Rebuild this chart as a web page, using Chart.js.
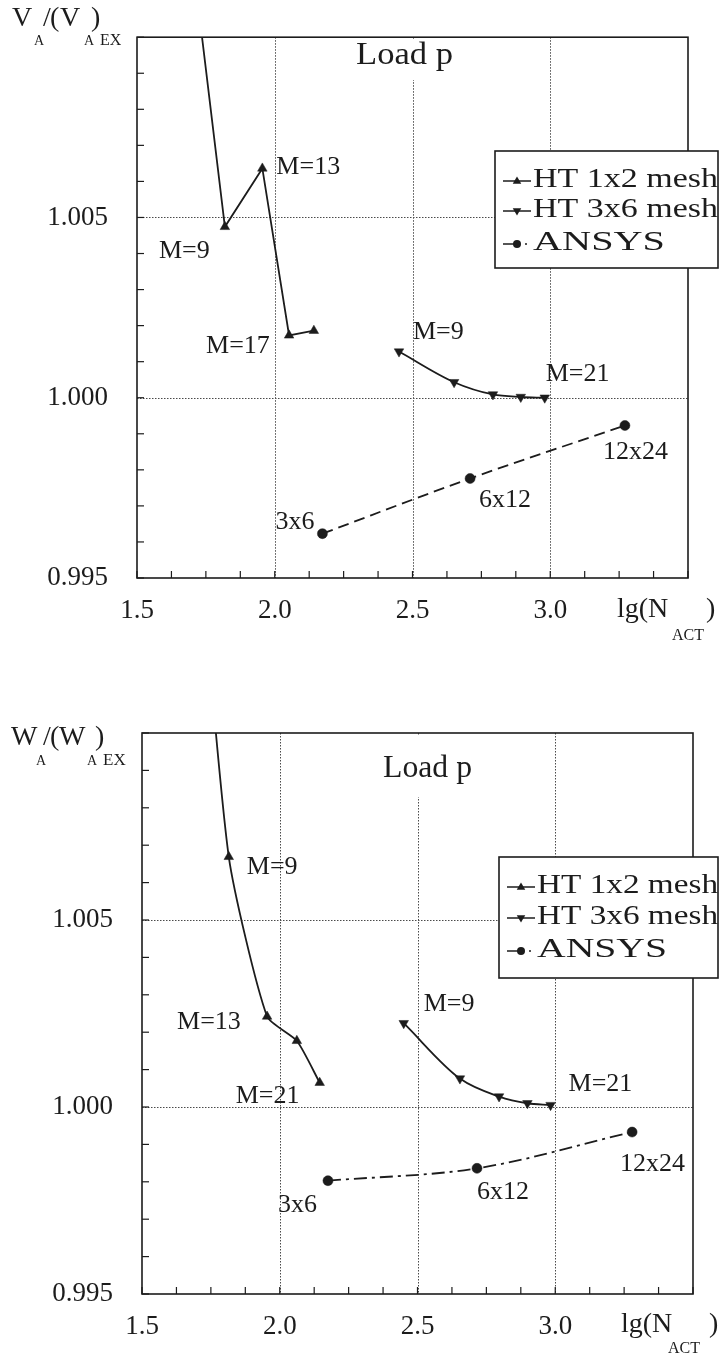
<!DOCTYPE html>
<html><head><meta charset="utf-8">
<script src="https://cdn.jsdelivr.net/npm/chart.js@4.4.0/dist/chart.umd.min.js"></script>
<style>
html,body{margin:0;padding:0;background:#fff;}
#wrap{position:relative;width:720px;height:1359px;overflow:hidden;background:#fff;}
#c1{position:absolute;left:0;top:0;}
#c2{position:absolute;left:0;top:660px;}
</style></head><body>
<div id="wrap">
<canvas id="c1" width="720" height="660"></canvas>
<canvas id="c2" width="720" height="699"></canvas>
</div>
<script>
// ---------- data ----------
const seriesNames = ['HT 1x2 mesh', 'HT 3x6 mesh', 'ANSYS'];
const xTickLabels = [1.5, 2.0, 2.5, 3.0];
const yTickLabels = [0.995, 1.000, 1.005];
const xGridValues = [2.0, 2.5, 3.0];
const yGridValues = [1.000, 1.005];

// top chart: V_A/(V_A)_EX
const vHT12_x = [1.699, 1.819, 1.955, 2.052, 2.142];
const vHT12_y = [1.01235, 1.00474, 1.00636, 1.00173, 1.00186];
const vHT36_x = [2.451, 2.651, 2.792, 2.893, 2.980];
const vHT36_y = [1.00128, 1.00043, 1.00009, 1.00002, 1.00000];
const vANS_x = [2.173, 2.709, 3.271];
const vANS_y = [0.99623, 0.99776, 0.99923];

// bottom chart: W_A/(W_A)_EX
const wHT12_x = [1.699, 1.815, 1.954, 2.062, 2.145];
const wHT12_y = [1.0158, 1.00669, 1.00242, 1.00177, 1.00065];
const wHT36_x = [2.450, 2.654, 2.796, 2.899, 2.983];
const wHT36_y = [1.00224, 1.00076, 1.00028, 1.00010, 1.00005];
const wANS_x = [2.175, 2.716, 3.279];
const wANS_y = [0.99803, 0.99836, 0.99933];

// point annotation texts
const vLabelTexts = ['M=9', 'M=13', 'M=17', 'M=9', 'M=21', '3x6', '6x12', '12x24'];
const wLabelTexts = ['M=9', 'M=13', 'M=21', 'M=9', 'M=21', '3x6', '6x12', '12x24'];

// ---------- styling / layout ----------
const INK = '#1c1c1c';
const FONT = "'Liberation Serif', 'Times New Roman', serif";

// label anchors: [series, pointIndex, dx, dy] (pixel offsets from the point)
const vLabelAnchors = [[0,1,-66,31],[0,2,14,6],[0,3,-83,18],[1,0,14,-13],[1,4,1,-17],[2,0,-47,-5],[2,1,9,29],[2,2,-22,34]];
const wLabelAnchors = [[0,1,18,17],[0,2,-90,13],[0,4,-84,20],[1,0,20,-12],[1,4,18,-14],[2,0,-50,31],[2,1,0,31],[2,2,-12,39]];

function drawTri(ctx, x, y, r, down) {
  ctx.beginPath();
  if (!down) { ctx.moveTo(x, y - r); ctx.lineTo(x + r * 0.95, y + r * 0.6); ctx.lineTo(x - r * 0.95, y + r * 0.6); }
  else { ctx.moveTo(x, y + r); ctx.lineTo(x + r * 0.95, y - r * 0.6); ctx.lineTo(x - r * 0.95, y - r * 0.6); }
  ctx.closePath(); ctx.fill();
}
function fitText(ctx, text, x, y, w) {
  const m = ctx.measureText(text).width;
  ctx.save(); ctx.translate(x, y); ctx.scale(w / m, 1); ctx.fillText(text, 0, 0); ctx.restore();
}
function runs(ctx, list) {
  for (const r of list) { ctx.font = r.s + 'px ' + FONT; ctx.fillText(r.t, r.x, r.y); }
}

function makeChart(id, L) {
  const series = L.series;
  const styles = [
    {ps: 'triangle', rot: 0, r: 5.5, dash: [], tension: L.t12},
    {ps: 'triangle', rot: 180, r: 5.5, dash: [], tension: 'monotone'},
    {ps: 'circle', rot: 0, r: 5, dash: L.ansDash, tension: 'monotone'}
  ];
  const datasets = series.map((s, i) => {
    const st = styles[i];
    const ds = {
      label: seriesNames[i],
      data: s.x.map((x, j) => ({x: x, y: s.y[j]})),
      showLine: true,
      borderColor: INK, backgroundColor: INK,
      borderWidth: 1.8,
      borderDash: st.dash,
      pointStyle: st.ps, rotation: st.rot,
      pointRadius: st.r, pointHoverRadius: st.r,
      pointBorderWidth: 0.5, pointBorderColor: INK,
      fill: false
    };
    if (st.tension === 'monotone') ds.cubicInterpolationMode = 'monotone';
    else ds.tension = st.tension;
    return ds;
  });

  const near = (v, arr) => arr.some(a => Math.abs(a - v) < 1e-6);

  const deco = {
    id: 'deco',
    beforeDatasetsDraw(chart) {
      const {ctx, chartArea: a, scales: {x, y}} = chart;
      ctx.save();
      ctx.strokeStyle = '#4a4a4a'; ctx.lineWidth = 1; ctx.setLineDash([1.5, 1.5]);
      for (const v of xGridValues) {
        const px = Math.round(x.getPixelForValue(v)) + 0.5;
        ctx.beginPath(); ctx.moveTo(px, a.top); ctx.lineTo(px, a.bottom); ctx.stroke();
      }
      for (const v of yGridValues) {
        const py = Math.round(y.getPixelForValue(v)) + 0.5;
        ctx.beginPath(); ctx.moveTo(a.left, py); ctx.lineTo(a.right, py); ctx.stroke();
      }
      ctx.setLineDash([]);
      ctx.fillStyle = '#fff';
      ctx.fillRect(L.title.x - 4, a.top + 2, L.title.w + 8, L.title.clearTo - a.top - 2);
      ctx.restore();
    },
    afterDatasetsDraw(chart) {
      const {ctx, chartArea: a, scales: {x, y}} = chart;
      ctx.save();
      ctx.strokeStyle = INK; ctx.lineWidth = 1.6;
      ctx.strokeRect(a.left, a.top, a.right - a.left, a.bottom - a.top);
      ctx.lineWidth = 1.2;
      for (const t of x.ticks) {
        const px = x.getPixelForValue(t.value);
        ctx.beginPath(); ctx.moveTo(px, a.bottom); ctx.lineTo(px, a.bottom - 7); ctx.stroke();
      }
      for (const t of y.ticks) {
        const py = y.getPixelForValue(t.value);
        ctx.beginPath(); ctx.moveTo(a.left, py); ctx.lineTo(a.left + 7, py); ctx.stroke();
      }
      ctx.fillStyle = INK;
      ctx.font = '32px ' + FONT; ctx.textBaseline = 'alphabetic';
      fitText(ctx, 'Load p', L.title.x, L.title.y, L.title.w);
      ctx.font = '26px ' + FONT;
      L.labels.forEach((an, i) => {
        const pt = series[an[0]];
        const px = x.getPixelForValue(pt.x[an[1]]) + an[2];
        const py = y.getPixelForValue(pt.y[an[1]]) + an[3];
        ctx.fillText(L.labelTexts[i], px, py);
      });
      const g = L.legend;
      ctx.fillStyle = '#fff';
      ctx.fillRect(g.x, g.y, g.w, g.h);
      ctx.strokeStyle = INK; ctx.lineWidth = 1.6;
      ctx.strokeRect(g.x, g.y, g.w, g.h);
      ctx.fillStyle = INK;
      seriesNames.forEach((nm, i) => {
        const by = g.y + g.rows[i];
        const cy = by - 6;
        ctx.lineWidth = 1.5;
        if (i < 2) {
          ctx.beginPath(); ctx.moveTo(g.x + 8, cy); ctx.lineTo(g.x + 36, cy); ctx.stroke();
          drawTri(ctx, g.x + 22, cy, 4.5, i === 1);
        } else {
          ctx.beginPath(); ctx.moveTo(g.x + 8, cy); ctx.lineTo(g.x + 20, cy); ctx.stroke();
          ctx.beginPath(); ctx.arc(g.x + 22, cy, 4, 0, Math.PI * 2); ctx.fill();
          ctx.beginPath(); ctx.arc(g.x + 31, cy, 1, 0, Math.PI * 2); ctx.fill();
        }
        ctx.font = '28px ' + FONT;
        fitText(ctx, nm, g.x + 38, by, g.tw[i]);
      });
      ctx.fillStyle = INK;
      runs(ctx, L.ytitle);
      runs(ctx, L.xtitle);
      ctx.restore();
    }
  };

  return new Chart(document.getElementById(id), {
    type: 'scatter',
    data: {datasets},
    options: {
      responsive: false, animation: false, devicePixelRatio: 1,
      layout: {padding: {top: L.padTop, right: L.padRight, left: 0, bottom: 0}},
      plugins: {legend: {display: false}, tooltip: {enabled: false}, title: {display: false}},
      scales: {
        x: {
          type: 'linear', min: 1.5, max: 3.5,
          afterFit: s => { s.height = L.xh; },
          grid: {display: false}, border: {display: false},
          ticks: {
            stepSize: 0.125, autoSkip: false, maxRotation: 0, padding: L.xpad,
            color: INK, font: {family: FONT, size: 27},
            callback: v => near(v, xTickLabels) ? Number(v).toFixed(1) : ''
          }
        },
        y: {
          type: 'linear', min: 0.995, max: 1.010,
          afterFit: s => { s.width = L.yw; },
          grid: {display: false}, border: {display: false},
          ticks: {
            stepSize: 0.001, autoSkip: false, padding: 21,
            color: INK, font: {family: FONT, size: 27},
            callback: v => near(v, yTickLabels) ? Number(v).toFixed(3) : ''
          }
        }
      }
    },
    plugins: [deco]
  });
}

makeChart('c1', {
  series: [{x: vHT12_x, y: vHT12_y}, {x: vHT36_x, y: vHT36_y}, {x: vANS_x, y: vANS_y}],
  t12: 0, ansDash: [11, 6],
  padTop: 18, padRight: 32, yw: 137, xh: 82, xpad: 9,
  title: {x: 356, y: 64, w: 97, clearTo: 80},
  labels: vLabelAnchors, labelTexts: vLabelTexts,
  legend: {x: 495, y: 151, w: 223, h: 117, rows: [36, 66, 99], tw: [185, 185, 132]},
  ytitle: [
    {t: 'V', s: 28, x: 12, y: 26}, {t: 'A', s: 14, x: 34, y: 45},
    {t: '/', s: 28, x: 43, y: 26}, {t: '(', s: 28, x: 50, y: 26},
    {t: 'V', s: 28, x: 60, y: 26}, {t: 'A', s: 14, x: 84, y: 45},
    {t: ')', s: 28, x: 91, y: 26}, {t: 'EX', s: 16, x: 100, y: 45}
  ],
  xtitle: [
    {t: 'lg(N', s: 28, x: 617, y: 617}, {t: 'ACT', s: 16, x: 672, y: 640},
    {t: ')', s: 28, x: 706, y: 617}
  ]
});

makeChart('c2', {
  series: [{x: wHT12_x, y: wHT12_y}, {x: wHT36_x, y: wHT36_y}, {x: wANS_x, y: wANS_y}],
  t12: 0.2, ansDash: [13, 5, 3, 5],
  padTop: 73, padRight: 27, yw: 142, xh: 65, xpad: 9,
  title: {x: 383, y: 117, w: 89, clearTo: 137},
  labels: wLabelAnchors, labelTexts: wLabelTexts,
  legend: {x: 499, y: 197, w: 219, h: 121, rows: [36, 67, 100], tw: [181, 181, 130]},
  ytitle: [
    {t: 'W', s: 28, x: 11, y: 85}, {t: 'A', s: 14, x: 36, y: 105},
    {t: '/', s: 28, x: 43, y: 85}, {t: '(', s: 28, x: 50, y: 85},
    {t: 'W', s: 28, x: 59, y: 85}, {t: 'A', s: 14, x: 87, y: 105},
    {t: ')', s: 28, x: 95, y: 85}, {t: 'EX', s: 17, x: 103, y: 105}
  ],
  xtitle: [
    {t: 'lg(N', s: 28, x: 621, y: 672}, {t: 'ACT', s: 16, x: 668, y: 693},
    {t: ')', s: 28, x: 709, y: 672}
  ]
});
</script>
</body></html>
